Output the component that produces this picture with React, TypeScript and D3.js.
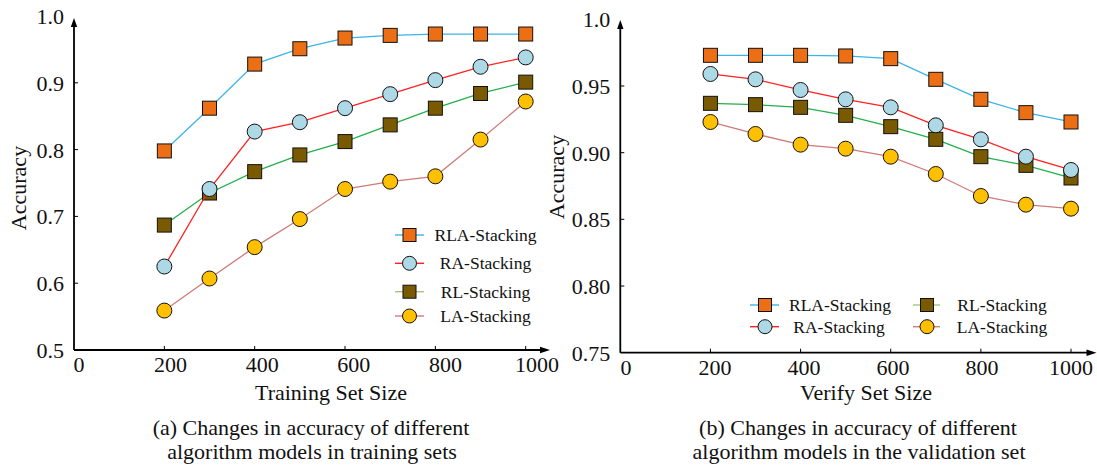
import React from "react";
import * as d3 from "d3";

const sizes = [200, 300, 400, 500, 600, 700, 800, 900, 1000];
const xTicks = [0, 200, 400, 600, 800, 1000];

const trainRLA = [0.798, 0.862, 0.928, 0.951, 0.967, 0.971, 0.973, 0.973, 0.973];
const trainRA = [0.625, 0.741, 0.827, 0.841, 0.862, 0.883, 0.904, 0.924, 0.938];
const trainRL = [0.687, 0.735, 0.767, 0.792, 0.812, 0.837, 0.862, 0.884, 0.901];
const trainLA = [0.559, 0.607, 0.654, 0.696, 0.741, 0.752, 0.760, 0.815, 0.872];

const verifyRLA = [0.973, 0.973, 0.973, 0.9725, 0.9705, 0.955, 0.94, 0.93, 0.923];
const verifyRA = [0.959, 0.955, 0.947, 0.940, 0.934, 0.9205, 0.91, 0.897, 0.887];
const verifyRL = [0.937, 0.936, 0.934, 0.928, 0.9195, 0.91, 0.897, 0.8905, 0.881];
const verifyLA = [0.923, 0.914, 0.906, 0.903, 0.897, 0.884, 0.8675, 0.861, 0.858];

const trainYTicks = [0.5, 0.6, 0.7, 0.8, 0.9, 1.0];
const trainYLabels = ["0.5", "0.6", "0.7", "0.8", "0.9", "1.0"];
const verifyYTicks = [0.75, 0.8, 0.85, 0.9, 0.95, 1.0];
const verifyYLabels = ["0.75", "0.80", "0.85", "0.90", "0.95", "1.0"];

const seriesNames = ["RLA-Stacking", "RA-Stacking", "RL-Stacking", "LA-Stacking"];

type Series = { name: string; shape: "square" | "circle"; fill: string; line: string; legendLine: string };
const seriesStyle: Series[] = [
  { name: seriesNames[0], shape: "square", fill: "#EC6F16", line: "#3BB4E6", legendLine: "#3BB4E6" },
  { name: seriesNames[1], shape: "circle", fill: "#ADD8E6", line: "#FF2020", legendLine: "#FF2020" },
  { name: seriesNames[2], shape: "square", fill: "#7A5A00", line: "#22B04C", legendLine: "#A3C77C" },
  { name: seriesNames[3], shape: "circle", fill: "#FFC000", line: "#D07A7A", legendLine: "#D07A7A" },
];

const FONT = "'Liberation Serif', 'Times New Roman', serif";
const drawOrder = [0, 2, 3, 1];

function Marker({ shape, fill, cx, cy, s }: { shape: string; fill: string; cx: number; cy: number; s: number }) {
  if (shape === "square")
    return <rect x={cx - s / 2} y={cy - s / 2} width={s} height={s} fill={fill} stroke="#111" strokeWidth={1} />;
  return <circle cx={cx} cy={cy} r={s / 2 + 0.5} fill={fill} stroke="#111" strokeWidth={1} />;
}

function Panel(props: {
  x: d3.ScaleLinear<number, number>;
  xLab: d3.ScaleLinear<number, number>;
  y: d3.ScaleLinear<number, number>;
  yTicks: number[];
  yLabels: string[];
  data: number[][];
  yLabelY: number;
  yLabelX: number;
  xArrow: number;
  yArrow: number;
}) {
  const { x, xLab, y, yTicks, yLabels, data, yLabelY, yLabelX, xArrow, yArrow } = props;
  const x0 = x(0);
  const y0 = y(yTicks[0]);
  const line = d3
    .line<number>()
    .x((_, i) => x(sizes[i]))
    .y((d) => y(d));
  return (
    <g>
      <line x1={x0} y1={y0} x2={xArrow - 8} y2={y0} stroke="#000" strokeWidth={1.8} />
      <path d={`M${xArrow},${y0} L${xArrow - 10},${y0 - 3.2} L${xArrow - 10},${y0 + 3.2} Z`} fill="#000" />
      <line x1={x0} y1={y0} x2={x0} y2={yArrow + 8} stroke="#000" strokeWidth={1.8} />
      <path d={`M${x0},${yArrow} L${x0 - 3.2},${yArrow + 9} L${x0 + 3.2},${yArrow + 9} Z`} fill="#000" />
      {xTicks.slice(1).map((t) => (
        <line key={"xt" + t} x1={x(t)} x2={x(t)} y1={y0} y2={y0 - 4} stroke="#000" strokeWidth={1} />
      ))}
      {xTicks.map((t) => (
        <text key={"xl" + t} x={xLab(t)} y={y0 + 22} textAnchor="middle" fontSize={22} fontFamily={FONT} fill="#111">
          {t}
        </text>
      ))}
      {yTicks.slice(1, -1).map((t) => (
        <line key={"yt" + t} x1={x0} x2={x0 + 4} y1={y(t)} y2={y(t)} stroke="#000" strokeWidth={1} />
      ))}
      {yTicks.map((t, i) => (
        <text
          key={"yl" + t}
          x={x0 - 10}
          y={y(t) + 8}
          textAnchor="end"
          fontSize={22}
          fontFamily={FONT}
          fill="#111"
        >
          {yLabels[i]}
        </text>
      ))}
      <text
        transform={`translate(${yLabelX},${yLabelY}) rotate(-90)`}
        textAnchor="middle"
        fontSize={22}
        fontFamily={FONT}
        fill="#111"
      >
        Accuracy
      </text>
      {drawOrder.map((si) => (
        <g key={"s" + si}>
          <path d={line(data[si]) || ""} fill="none" stroke={seriesStyle[si].line} strokeWidth={1.3} />
          {data[si].map((v, i) => (
            <Marker
              key={i}
              shape={seriesStyle[si].shape}
              fill={seriesStyle[si].fill}
              cx={x(sizes[i])}
              cy={y(v)}
              s={14}
            />
          ))}
        </g>
      ))}
    </g>
  );
}

function LegendItem({ si, lx1, lx2, mx, tx, y }: { si: number; lx1: number; lx2: number; mx: number; tx: number; y: number }) {
  const s = seriesStyle[si];
  return (
    <g>
      <line x1={lx1} x2={lx2} y1={y} y2={y} stroke={s.legendLine} strokeWidth={1.4} />
      <Marker shape={s.shape} fill={s.fill} cx={mx} cy={y} s={13} />
      <text x={tx} y={y + 6} textAnchor="middle" fontSize={17.5} fontFamily={FONT} fill="#111">
        {s.name}
      </text>
    </g>
  );
}

export default function App() {
  const xL = d3.scaleLinear().domain([0, 1000]).range([74, 525.7]);
  const xLabL = d3.scaleLinear().domain([0, 1000]).range([79, 537]);
  const yL = d3.scaleLinear().domain([0.5, 1.0]).range([350, 16]);
  const xR = d3.scaleLinear().domain([0, 1000]).range([620.3, 1071]);
  const xLabR = d3.scaleLinear().domain([0, 1000]).range([626, 1071]);
  const yR = d3.scaleLinear().domain([0.75, 1.0]).range([352.7, 19.3]);

  const leftRows = [235, 263.3, 291.7, 316];

  return (
    <svg width={1097} height={465} style={{ position: "absolute", left: 0, top: 0, background: "#fff" }}>
      <rect width={1097} height={465} fill="#fff" />
      <Panel
        x={xL}
        xLab={xLabL}
        y={yL}
        yTicks={trainYTicks}
        yLabels={trainYLabels}
        data={[trainRLA, trainRA, trainRL, trainLA]}
        yLabelX={26}
        yLabelY={188}
        xArrow={550}
        yArrow={18}
      />
      <Panel
        x={xR}
        xLab={xLabR}
        y={yR}
        yTicks={verifyYTicks}
        yLabels={verifyYLabels}
        data={[verifyRLA, verifyRA, verifyRL, verifyLA]}
        yLabelX={564}
        yLabelY={177}
        xArrow={1096.5}
        yArrow={20}
      />
      {seriesStyle.map((_, si) => (
        <LegendItem key={"ll" + si} si={si} lx1={395} lx2={424} mx={409.5} tx={485.5} y={leftRows[si]} />
      ))}
      <LegendItem si={0} lx1={750} lx2={779} mx={765} tx={840} y={305} />
      <LegendItem si={1} lx1={750} lx2={779} mx={765} tx={839} y={326.7} />
      <LegendItem si={2} lx1={913} lx2={940} mx={927} tx={1002} y={305} />
      <LegendItem si={3} lx1={913} lx2={940} mx={927} tx={1002} y={326.7} />

      <text x={331} y={400} textAnchor="middle" fontSize={22} fontFamily={FONT} fill="#111">
        Training Set Size
      </text>
      <text x={311} y={435} textAnchor="middle" fontSize={22} fontFamily={FONT} fill="#111">
        (a) Changes in accuracy of different
      </text>
      <text x={312} y={459} textAnchor="middle" fontSize={22} fontFamily={FONT} fill="#111">
        algorithm models in training sets
      </text>
      <text x={866} y={400} textAnchor="middle" fontSize={22} fontFamily={FONT} fill="#111">
        Verify Set Size
      </text>
      <text x={858} y={435} textAnchor="middle" fontSize={22} fontFamily={FONT} fill="#111">
        (b) Changes in accuracy of different
      </text>
      <text x={859} y={459} textAnchor="middle" fontSize={22} fontFamily={FONT} fill="#111">
        algorithm models in the validation set
      </text>
    </svg>
  );
}
